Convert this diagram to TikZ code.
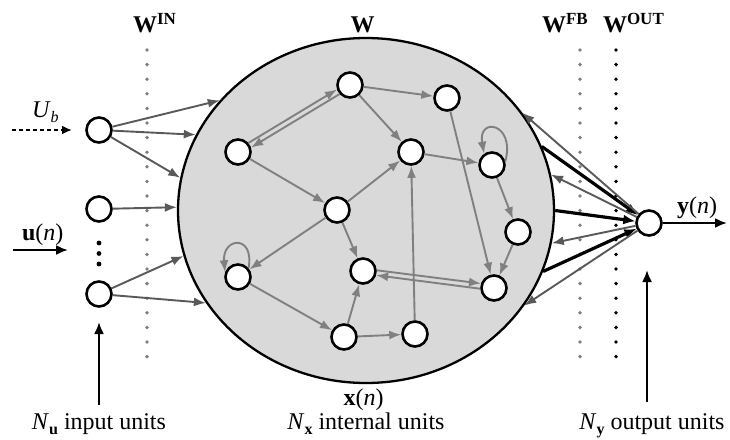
\documentclass[tikz,border=0pt]{standalone}
\usepackage{fontspec}
\setmainfont{Liberation Serif}
\usetikzlibrary{arrows.meta,shapes.geometric}
\definecolor{edgegray}{HTML}{808080}
\definecolor{darkedge}{HTML}{595959}
\definecolor{dotgray}{HTML}{7F7F7F}
\definecolor{resfill}{HTML}{D9D9D9}
\newcommand{\mysub}[1]{\raisebox{-0.22em}{\fontsize{16}{16}\selectfont #1}}
\newcommand{\mysup}[1]{\raisebox{0.3em}{\fontsize{17}{17}\selectfont\bfseries #1}}
\begin{document}
\begin{tikzpicture}[x=1pt,y=-1pt,
  font=\fontsize{24}{28}\selectfont,
  unit/.style={circle, draw=black, line width=2.6pt, fill=white, minimum size=25pt, inner sep=0pt},
  iedge/.style={draw=edgegray, line width=1.9pt, -{Latex[length=12pt,width=9pt]}},
  inedge/.style={draw=darkedge, line width=1.9pt, -{Latex[length=12pt,width=9pt]}},
  outedge/.style={draw=black, line width=3.2pt, -{Latex[length=12pt,width=10pt]}},
  bigarrow/.style={draw=black, line width=2.2pt, -{Latex[length=12pt,width=10pt]}},
  dotline/.style={line width=3.8pt, line cap=round, dash pattern=on 0pt off 14.6pt},
  lbl/.style={inner sep=0pt, outer sep=0pt}]
\useasboundingbox (0,0) rectangle (730,439);

% dotted weight lines
\coordinate (winT) at (147,50);  \coordinate (winB) at (147,363);
\coordinate (wfbT) at (580,50);  \coordinate (wfbB) at (580,363);
\coordinate (woutT) at (616,50); \coordinate (woutB) at (616,363);
\draw[dotline, dotgray] (winT) -- (winB);
\draw[dotline, dotgray] (wfbT) -- (wfbB);
\draw[dotline, black] (woutT) -- (woutB);

% reservoir
\node[ellipse, draw=black, line width=2.3pt, fill=resfill, minimum width=376pt, minimum height=345pt, inner sep=0pt] (res) at (366,210.5) {};

% input units
\node[unit] (U1) at (99,130) {};
\node[unit] (U2) at (99,209) {};
\node[unit] (U3) at (99,294) {};
\fill (99,243) circle (2.4pt) (99,253.5) circle (2.4pt) (99,264) circle (2.4pt);

% internal units
\node[unit] (A) at (350,85) {};
\node[unit] (B) at (238,152) {};
\node[unit] (C) at (337,210) {};
\node[unit] (D) at (238,277) {};
\node[unit] (E) at (363,271) {};
\node[unit] (F) at (344,337) {};
\node[unit] (G) at (447,98) {};
\node[unit] (H) at (411,152) {};
\node[unit] (I) at (492,165) {};
\node[unit] (J) at (518,232) {};
\node[unit] (K) at (494,288) {};
\node[unit] (L) at (415,334) {};

% output unit
\node[unit] (O) at (649,223) {};

% input connections
\draw[inedge] (U1) -- (res.143.7);
\draw[inedge] (U1) -- (res.156.7);
\draw[inedge] (U1) -- (res.170.1);
\draw[inedge] (U2) -- (res.179.2);
\draw[inedge] (U3) -- (res.194.3);
\draw[inedge] (U3) -- (res.210.7);

% internal connections
\draw[iedge] (B.41.9) -- (A.199.9);
\draw[iedge] (A.221.9) -- (B.19.9);
\draw[iedge] (A) -- (G);
\draw[iedge] (A) -- (H);
\draw[iedge] (B) -- (C);
\draw[iedge] (C) -- (H);
\draw[iedge] (C) -- (D);
\draw[iedge] (C) -- (E);
\draw[iedge] (D.40) .. controls +(80:35pt) and +(95:35pt) .. (D.160);
\draw[iedge] (D) -- (F);
\draw[iedge] (F) -- (E);
\draw[iedge] (F) -- (L);
\draw[iedge] (L) -- (H);
\draw[iedge] (H) -- (I);
\draw[iedge] (I.15) .. controls +(75:40pt) and +(100:38pt) .. (I.125);
\draw[iedge] (I) -- (J);
\draw[iedge] (J) -- (K);
\draw[iedge] (G) -- (K);
\draw[iedge] (E.3.6) -- (K.161.6);
\draw[iedge] (K.183.6) -- (E.-18.4);

% output connections
\draw[outedge] (res.20.9) -- (O);
\draw[outedge] (res.0.8) -- (O);
\draw[outedge] (res.-19.6) -- (O);
\draw[inedge] (O) -- (res.32.3);
\draw[inedge] (O) -- (res.11.7);
\draw[inedge] (O) -- (res.-10.1);
\draw[inedge] (O) -- (res.-31.1);

% external arrows
\coordinate (ubS) at (12,130);  \coordinate (ubE) at (72,130);
\draw[draw=black, line width=2pt, dash pattern=on 4pt off 3pt, -{Latex[length=10pt,width=9pt]}] (ubS) -- (ubE);
\coordinate (unS) at (13,250);  \coordinate (unE) at (68,250);
\draw[bigarrow] (unS) -- (unE);
\coordinate (ynE) at (727,223);
\draw[bigarrow] (O) -- (ynE);
\coordinate (inB) at (99,405);  \coordinate (inT) at (99,322);
\draw[bigarrow] (inB) -- (inT);
\coordinate (outB) at (647,402); \coordinate (outT) at (647,270);
\draw[bigarrow] (outB) -- (outT);

% labels
\node[lbl, anchor=base west] (lwin) at (133,32) {\textbf{W}\mysup{IN}};
\node[lbl, anchor=base] (lw) at (362.5,32) {\textbf{W}};
\node[lbl, anchor=base west] (lwfb) at (542,32) {\textbf{W}\mysup{FB}};
\node[lbl, anchor=base west] (lwout) at (603,32) {\textbf{W}\mysup{OUT}};
\node[lbl, anchor=base west] (lub) at (32,117) {\textit{U}\mysub{\textit{b}}};
\node[lbl, anchor=base west] (lun) at (22,240) {\textbf{u}(\textit{n})};
\node[lbl, anchor=base west] (lyn) at (677,213) {\textbf{y}(\textit{n})};
\node[lbl, anchor=base] (lxn) at (363.5,405) {\textbf{x}(\textit{n})};
\node[lbl, anchor=base] (lnu) at (99,429) {\textit{N}\mysub{\textbf{u}} input units};
\node[lbl, anchor=base] (lnx) at (366,429) {\textit{N}\mysub{\textbf{x}} internal units};
\node[lbl, anchor=base] (lny) at (652,429) {\textit{N}\mysub{\textbf{y}} output units};
\end{tikzpicture}
\end{document}
